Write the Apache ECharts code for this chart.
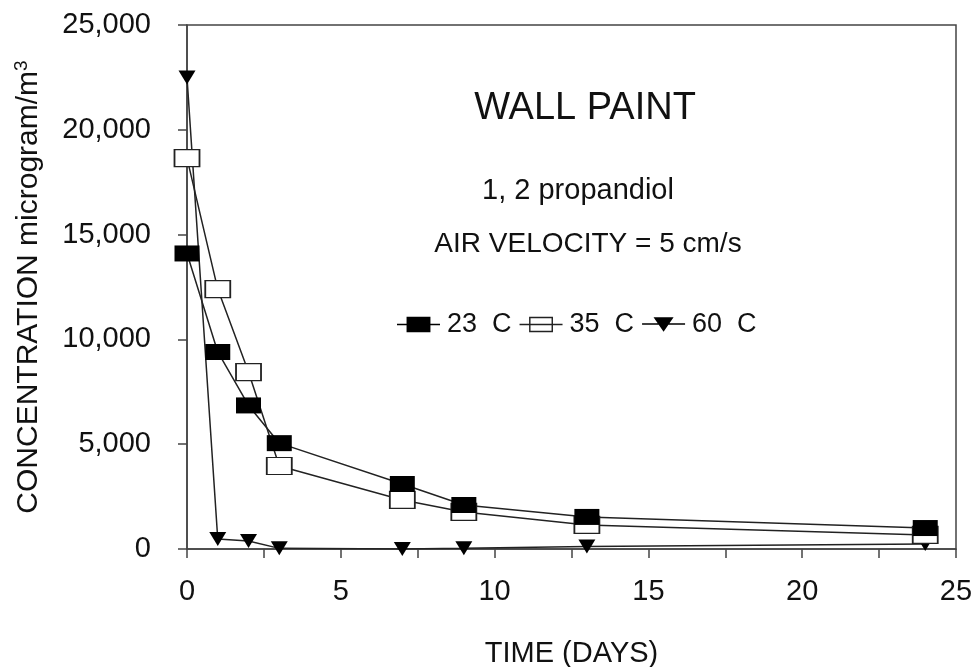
<!DOCTYPE html>
<html>
<head>
  <meta charset="UTF-8">
  <title>Wall paint</title>
  <script src="https://cdn.jsdelivr.net/npm/echarts@6/dist/echarts.min.js"></script>
  <style>
    html, body { margin: 0; background: #fff; }
    #main { width: 974px; height: 667px; }
  </style>
</head>
<body>
<div id="main"></div>
<script>
  // days and concentrations
  var days = [0, 1, 2, 3, 7, 9, 13, 24];
  var c23 = [14100, 9400, 6850, 5050, 3100, 2100, 1530, 1000];
  var c35 = [18650, 12400, 8440, 3960, 2340, 1770, 1150, 670];
  var c60 = [22500, 480, 380, 30, 0, 30, 120, 240];
  var yTicks = ['0', '5,000', '10,000', '15,000', '20,000', '25,000'];

  var font = 'Liberation Sans, Arial, sans-serif';
  var ink = '#111';

  // legend icons: line with marker in the middle
  var iconFilled = 'path://M0,7.25H10V0H35V7.25H45V8.75H35V16H10V8.75H0Z';
  var iconOpen = 'path://M0,7.25H45V8.75H0Z M10,0H35V16H10Z M11.5,1.5V14.5H33.5V1.5Z';
  var iconTri = 'path://M0,7.25H45V8.75H0Z M12,1H33L22.5,16Z';

  function pairs(ys) {
    return days.map(function (d, i) { return [d, ys[i]]; });
  }

  echarts.init(document.getElementById('main')).setOption({
    backgroundColor: '#fff',
    animation: false,
    textStyle: { fontFamily: font, color: ink },
    grid: {
      left: 187, right: 18, top: 25, bottom: 118,
      outerBoundsMode: 'none', containLabel: false,
      show: true, borderColor: '#444', borderWidth: 1.5
    },
    title: [
      { text: 'WALL PAINT', left: 580, top: 85, textAlign: 'center',
        textStyle: { fontSize: 38, fontWeight: 'normal', color: ink, fontFamily: font } },
      { text: '1, 2 propandiol', left: 573, top: 171, textAlign: 'center',
        textStyle: { fontSize: 29, fontWeight: 'normal', color: ink, fontFamily: font } },
      { text: 'AIR VELOCITY = 5 cm/s', left: 583, top: 225, textAlign: 'center',
        textStyle: { fontSize: 28, fontWeight: 'normal', color: ink, fontFamily: font } }
    ],
    legend: {
      left: 392, top: 306,
      itemWidth: 43, itemHeight: 16, itemGap: 8,
      textStyle: { fontSize: 27, color: ink, fontFamily: font, padding: [0, 0, 0, 2] },
      data: [
        { name: '23  C', icon: iconFilled, itemStyle: { color: '#000', borderWidth: 0 } },
        { name: '35  C', icon: iconOpen, itemStyle: { color: '#222', borderWidth: 0 } },
        { name: '60  C', icon: iconTri, itemStyle: { color: '#000', borderWidth: 0 } }
      ]
    },
    xAxis: {
      type: 'value', min: 0, max: 25, interval: 2.5,
      name: 'TIME (DAYS)', nameLocation: 'middle', nameGap: 90,
      nameTextStyle: { fontSize: 29, color: ink, fontFamily: font },
      axisLine: { onZero: false, lineStyle: { color: '#444', width: 1.5 } },
      axisTick: { inside: false, length: 9, lineStyle: { color: '#444', width: 1.5 } },
      axisLabel: {
        fontSize: 29, color: ink, margin: 28,
        formatter: function (v) { return v % 5 === 0 ? String(v) : ''; }
      },
      splitLine: { show: false }
    },
    yAxis: {
      type: 'value', min: 0, max: 25000, interval: 5000,
      name: 'CONCENTRATION microgram/m{sup|3}', nameLocation: 'middle', nameGap: 141,
      nameTextStyle: {
        fontSize: 30, color: ink, fontFamily: font,
        rich: { sup: { fontSize: 19, verticalAlign: 'top', padding: [0, 0, 15, 0], color: ink, fontFamily: font } }
      },
      axisLine: { show: true, lineStyle: { color: '#444', width: 1.5 } },
      axisTick: { show: true, inside: false, length: 9, lineStyle: { color: '#444', width: 1.5 } },
      axisLabel: {
        fontSize: 29, color: ink, margin: 36,
        formatter: function (v) { return yTicks[v / 5000]; }
      },
      splitLine: { show: false }
    },
    series: [
      {
        name: '60  C', type: 'line', data: pairs(c60), z: 2,
        symbol: 'triangle', symbolRotate: 180, symbolSize: [17, 14],
        lineStyle: { color: '#222', width: 1.5 },
        itemStyle: { color: '#000', borderWidth: 0 }
      },
      {
        name: '35  C', type: 'line', data: pairs(c35), z: 3,
        symbol: 'rect', symbolSize: [25, 17],
        lineStyle: { color: '#222', width: 1.5 },
        itemStyle: { color: '#fff', borderColor: '#222', borderWidth: 1.5 }
      },
      {
        name: '23  C', type: 'line', data: pairs(c23), z: 4,
        symbol: 'rect', symbolSize: [25, 16],
        lineStyle: { color: '#222', width: 1.5 },
        itemStyle: { color: '#000', borderWidth: 0 }
      }
    ]
  });
</script>
</body>
</html>
